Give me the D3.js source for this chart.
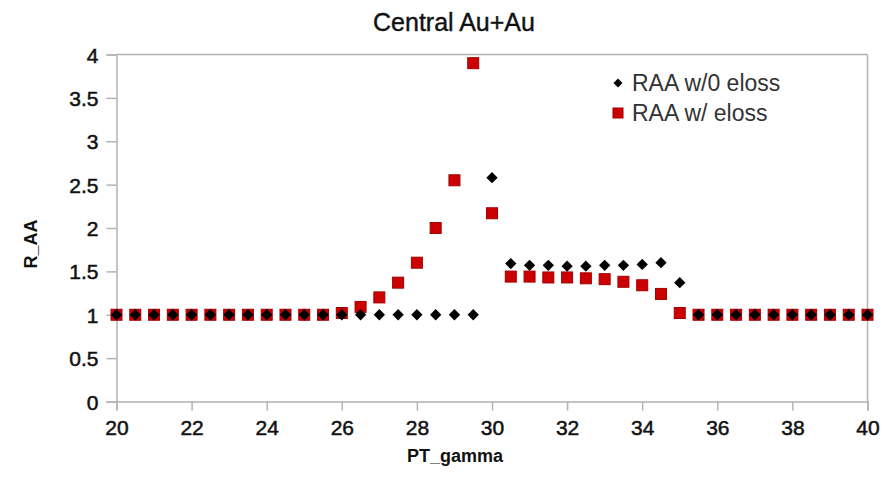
<!DOCTYPE html>
<html>
<head>
<meta charset="utf-8">
<script src="https://cdn.jsdelivr.net/npm/d3@7"></script>
<style>
  body { margin: 0; background: #fff; }
  text { font-family: "Liberation Sans", Arial, sans-serif; }
</style>
</head>
<body>
<div id="vis"></div>
<script>
// values
let ptGamma = [20, 20.5, 21, 21.5, 22, 22.5, 23, 23.5, 24, 24.5, 25, 25.5, 26, 26.5, 27, 27.5, 28, 28.5, 29, 29.5,
  30, 30.5, 31, 31.5, 32, 32.5, 33, 33.5, 34, 34.5, 35, 35.5, 36, 36.5, 37, 37.5, 38, 38.5, 39, 39.5, 40];
let raaNoEloss = [1, 1, 1, 1, 1, 1, 1, 1, 1, 1, 1, 1, 1, 1, 1, 1, 1, 1, 1, 1,
  2.58, 1.59, 1.57, 1.57, 1.56, 1.56, 1.57, 1.57, 1.58, 1.60, 1.37, 1, 1, 1, 1, 1, 1, 1, 1, 1, 1];
let raaEloss = [1, 1, 1, 1, 1, 1, 1, 1, 1, 1, 1, 1, 1.02, 1.09, 1.2, 1.37, 1.6, 2.0, 2.55, 3.9,
  2.17, 1.44, 1.44, 1.43, 1.43, 1.42, 1.41, 1.38, 1.34, 1.24, 1.02, 1, 1, 1, 1, 1, 1, 1, 1, 1, 1];
let xTicks = [20, 22, 24, 26, 28, 30, 32, 34, 36, 38, 40];
let yTicks = [0, 0.5, 1, 1.5, 2, 2.5, 3, 3.5, 4];
let seriesNames = ['RAA w/0 eloss', 'RAA w/ eloss'];

let W = 886, H = 489;
let margin = {top: 54.5, left: 116.5, right: 18.5, bottom: 87.5};
let width = W - margin.left - margin.right,
    height = H - margin.top - margin.bottom;

let svg = d3.select('#vis').append('svg')
  .attr('width', W)
  .attr('height', H)
  .style('background-color', 'white');

let x = d3.scaleLinear().domain([20, 40]).range([0, width]);
let y = d3.scaleLinear().domain([0, 4]).range([height, 0]);

let g = svg.append('g').attr('transform', `translate(${margin.left},${margin.top})`);

// frame top + right
g.append('line').attr('x1', 0).attr('x2', width).attr('y1', 0).attr('y2', 0)
  .attr('stroke', '#b3b3b3').attr('stroke-width', 1.5);
g.append('line').attr('x1', width).attr('x2', width).attr('y1', 0).attr('y2', height)
  .attr('stroke', '#b3b3b3').attr('stroke-width', 1.5);

// axes
let xAxis = g.append('g').attr('transform', `translate(0,${height})`)
  .call(d3.axisBottom(x).tickValues(xTicks).tickSize(9).tickPadding(10).tickFormat(d3.format('d')));
let yAxis = g.append('g')
  .call(d3.axisLeft(y).tickValues(yTicks).tickSize(10).tickPadding(8).tickFormat(d => String(d)));

[xAxis, yAxis].forEach(ax => {
  ax.select('.domain').attr('stroke', '#b3b3b3').attr('stroke-width', 1.5);
  ax.selectAll('.tick line').attr('stroke', '#b3b3b3').attr('stroke-width', 1.5);
  ax.selectAll('.tick text')
    .attr('fill', '#111')
    .attr('stroke', '#111')
    .attr('stroke-width', 0.5)
    .style('font-size', '21px')
    .style('font-family', '"Liberation Sans", Arial, sans-serif');
});
yAxis.selectAll('.tick text').attr('dy', '0.36em');

// points
g.selectAll('.sq').data(ptGamma.map((d, i) => [d, raaEloss[i]]))
  .enter().append('rect')
  .attr('class', 'sq')
  .attr('x', d => x(d[0]) - 5.5)
  .attr('y', d => y(d[1]) - 5.5)
  .attr('width', 11)
  .attr('height', 11)
  .attr('fill', '#cc0000')
  .attr('stroke', '#a00000')
  .attr('stroke-width', 1);

let diamond = d3.symbol().type(d3.symbolSquare).size(64);
g.selectAll('.dm').data(ptGamma.map((d, i) => [d, raaNoEloss[i]]))
  .enter().append('path')
  .attr('class', 'dm')
  .attr('d', diamond)
  .attr('transform', d => `translate(${x(d[0])},${y(d[1])}) rotate(45)`)
  .attr('fill', '#000');

// title
svg.append('text')
  .attr('x', 454).attr('y', 31)
  .attr('text-anchor', 'middle')
  .style('font-size', '25px')
  .attr('fill', '#111')
  .attr('stroke', '#111')
  .attr('stroke-width', 0.4)
  .text('Central Au+Au');

// axis titles
svg.append('text')
  .attr('x', 455).attr('y', 462)
  .attr('text-anchor', 'middle')
  .style('font-size', '18px')
  .style('font-weight', 'bold')
  .attr('fill', '#111')
  .text('PT_gamma');

svg.append('text')
  .attr('transform', 'translate(37,244) rotate(-90)')
  .attr('text-anchor', 'middle')
  .style('font-size', '18px')
  .style('font-weight', 'bold')
  .attr('fill', '#111')
  .text('R_AA');

// legend
let legend = svg.append('g').attr('transform', 'translate(618,83)');
legend.append('path')
  .attr('d', d3.symbol().type(d3.symbolSquare).size(40))
  .attr('transform', 'rotate(45)')
  .attr('fill', '#000');
legend.append('rect')
  .attr('x', -5).attr('y', 25).attr('width', 10).attr('height', 10)
  .attr('fill', '#cc0000').attr('stroke', '#a00000');
legend.selectAll('.lt').data(seriesNames).enter().append('text')
  .attr('x', 14)
  .attr('y', (d, i) => i * 30)
  .attr('dy', '0.36em')
  .style('font-size', '23px')
  .attr('fill', '#333')
  .text(d => d);
</script>
</body>
</html>
